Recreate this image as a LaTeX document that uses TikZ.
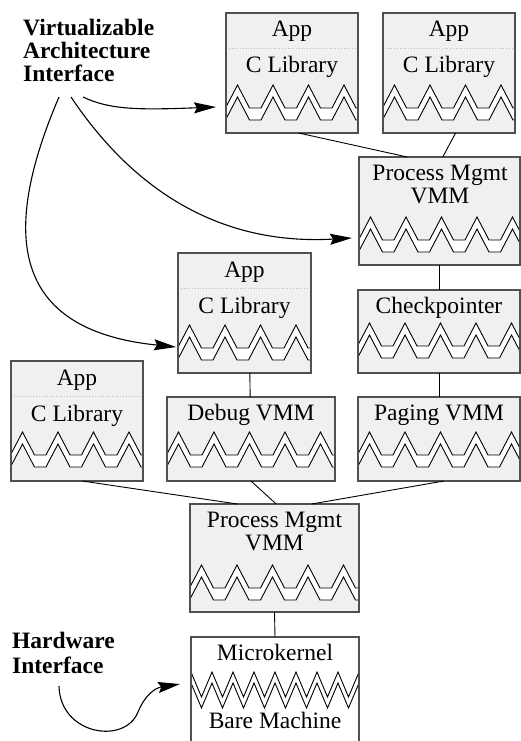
\documentclass[tikz,border=0pt]{standalone}
\usepackage{fontspec}
\setmainfont{Liberation Serif}
\usetikzlibrary{arrows.meta,calc}
\definecolor{boxfill}{RGB}{240,240,240}
\definecolor{boxedge}{RGB}{80,80,80}
\definecolor{divcol}{RGB}{190,190,190}
\tikzset{
  box/.style={draw=boxedge, fill=boxfill, line width=1.2pt, anchor=north west, inner sep=0pt, outer sep=0pt},
  wbox/.style={box, fill=white},
  lbl/.style={anchor=base, inner sep=0pt, font=\fontsize{23.5}{26}\selectfont},
  blbl/.style={anchor=base west, inner sep=0pt, font=\fontsize{23.5}{26}\selectfont\bfseries},
  zzline/.style={black, line width=0.9pt, line join=miter},
  edge/.style={draw=boxedge, line width=1.2pt},
  divider/.style={divcol, line width=0.8pt, dotted},
  conn/.style={black, line width=0.9pt},
  arr/.style={black, line width=1.1pt, -{Stealth[length=22pt,width=11pt,inset=3pt]}},
}
% double zigzag: left, right, top, bottom, peak y
\newcommand\zigA[5]{%
  \begin{scope}
    \clip (#1,#3) rectangle (#2,#4);
    \fill[white] (#1-12,#5+23) \foreach \i in {1,...,7}{ -- ++(11.5,0) -- ++(12,-23) -- ++(12,23)} -- (#2+60,#4) -- (#1-12,#4) -- cycle;
    \fill[boxfill] (#1-12,#5+35) \foreach \i in {1,...,7}{ -- ++(11.5,0) -- ++(12,-23) -- ++(12,23)} -- (#2+60,#4) -- (#1-12,#4) -- cycle;
    \draw[zzline] (#1-12,#5+23) \foreach \i in {1,...,7}{ -- ++(11.5,0) -- ++(12,-23) -- ++(12,23)};
    \draw[zzline] (#1-12,#5+35) \foreach \i in {1,...,7}{ -- ++(11.5,0) -- ++(12,-23) -- ++(12,23)};
  \end{scope}
  \draw[edge] (#1,#3) rectangle (#2,#4);
}
% sawtooth double line for the microkernel
\newcommand\zigB[5]{%
  \begin{scope}
    \clip (#1,#3) rectangle (#2,#4);
    \draw[zzline] (#1,#5) \foreach \i in {1,...,9}{ -- ++(10.5,25) -- ++(10.5,-25)};
    \draw[zzline] (#1,#5+11) \foreach \i in {1,...,9}{ -- ++(10.5,25) -- ++(10.5,-25)};
  \end{scope}
  \draw[edge] (#1,#4) -- (#1,#3) -- (#2,#3) -- (#2,#4);
}
\begin{document}
\begin{tikzpicture}[x=1pt,y=-1pt]
\useasboundingbox (0,0) rectangle (521,741);

% ---------- boxes ----------
\node[box, minimum width=132pt, minimum height=120pt] (app1) at (226,13) {};
\node[box, minimum width=132pt, minimum height=120pt] (app2) at (383,13) {};
\node[box, minimum width=161pt, minimum height=108pt] (pm1) at (359,157) {};
\node[box, minimum width=162pt, minimum height=83pt] (ckp) at (358,290) {};
\node[box, minimum width=162pt, minimum height=84pt] (pag) at (358,397) {};
\node[box, minimum width=133pt, minimum height=120pt] (app3) at (178,253) {};
\node[box, minimum width=168pt, minimum height=84pt] (dbg) at (167,397) {};
\node[box, minimum width=132pt, minimum height=120pt] (app4) at (11,361) {};
\node[box, minimum width=169pt, minimum height=108pt] (pm2) at (190,504) {};
\node[wbox, minimum width=168pt, minimum height=110pt] (mk) at (191,637) {};

% ---------- dividers ----------
\draw[divider] (226,48) -- (358,48);
\draw[divider] (383,48) -- (515,48);
\draw[divider] (178,288) -- (311,288);
\draw[divider] (11,396) -- (143,396);

% ---------- zigzags ----------
\zigA{226}{358}{13}{133}{85}
\zigA{383}{515}{13}{133}{85}
\zigA{359}{520}{157}{265}{217}
\zigA{358}{520}{290}{373}{323}
\zigA{358}{520}{397}{481}{432}
\zigA{178}{311}{253}{373}{325}
\zigA{167}{335}{397}{481}{432}
\zigA{11}{143}{361}{481}{432}
\zigA{190}{359}{504}{612}{565}
\zigB{191}{359}{637}{760}{672}

% ---------- texts ----------
\node[lbl] (app1a) at (292,37) {App};
\node[lbl] (app1b) at (292,73) {C Library};
\node[lbl] (app2a) at (449,37) {App};
\node[lbl] (app2b) at (449,73) {C Library};
\node[lbl] (pm1a) at (440,180) {Process Mgmt};
\node[lbl] (pm1b) at (440,203) {VMM};
\node[lbl] (ckpt) at (439,313) {Checkpointer};
\node[lbl] (pagt) at (439,420) {Paging VMM};
\node[lbl] (app3a) at (244.5,277) {App};
\node[lbl] (app3b) at (244.5,313) {C Library};
\node[lbl] (dbgt) at (251,420) {Debug VMM};
\node[lbl] (app4a) at (77,385) {App};
\node[lbl] (app4b) at (77,421) {C Library};
\node[lbl] (pm2a) at (274.5,527) {Process Mgmt};
\node[lbl] (pm2b) at (274.5,550) {VMM};
\node[lbl] (mka) at (275,660) {Microkernel};
\node[lbl] (mkb) at (275,728) {Bare Machine};

\node[blbl] (via) at (23,36) {Virtualizable};
\node[blbl] (vib) at (23,59) {Architecture};
\node[blbl] (vic) at (23,82) {Interface};
\node[blbl] (hwa) at (12,648) {Hardware};
\node[blbl] (hwb) at (12,673) {Interface};

% ---------- connectors ----------
\draw[conn] ($(app1.south west)!0.55!(app1.south east)$) -- ($(pm1.north west)!0.30!(pm1.north east)$);
\draw[conn] ($(app2.south west)!0.55!(app2.south east)$) -- ($(pm1.north west)!0.52!(pm1.north east)$);
\draw[conn] (pm1.south -| ckp.north) -- (ckp.north);
\draw[conn] (ckp.south) -- (pag.north);
\draw[conn] ($(app3.south west)!0.54!(app3.south east)$) -- ($(dbg.north west)!0.495!(dbg.north east)$);
\draw[conn] ($(app4.south west)!0.54!(app4.south east)$) -- ($(pm2.north west)!0.28!(pm2.north east)$);
\draw[conn] ($(dbg.south west)!0.5!(dbg.south east)$) -- ($(pm2.north west)!0.51!(pm2.north east)$);
\draw[conn] ($(pag.south west)!0.53!(pag.south east)$) -- ($(pm2.north west)!0.72!(pm2.north east)$);
\draw[conn] (pm2.south) -- (mk.north);

% ---------- arrows ----------
\coordinate (s1) at (83,97);
\coordinate (s2) at (71,97);
\coordinate (s3) at (59,97);
\coordinate (t1) at (216,107);
\coordinate (t2) at (352,238);
\coordinate (t3) at (176,347);
\draw[arr] (s1) .. controls (110,110) and (140,110) .. (t1);
\draw[arr] (s2) .. controls (140,200) and (230,245) .. (t2);
\draw[arr] (s3) .. controls (2,230) and (8,330) .. (t3);

\coordinate (h1) at (59,686);
\coordinate (h2) at (180,684);
\draw[arr] (h1) .. controls (60,735) and (125,745) .. (138,712) .. controls (145,695) and (155,688) .. (h2);
\end{tikzpicture}
\end{document}
